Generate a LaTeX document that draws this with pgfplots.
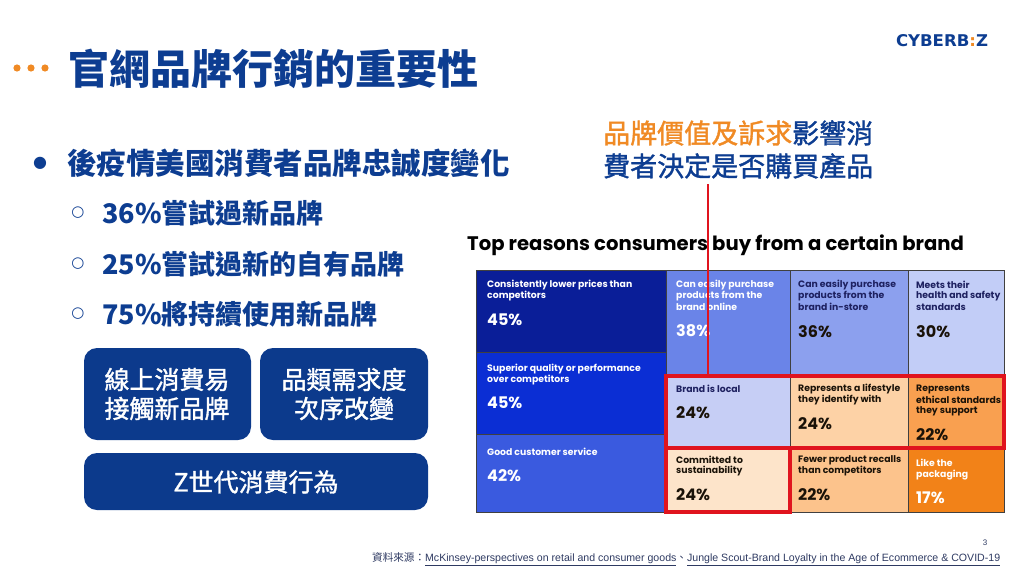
\documentclass[border=0pt]{standalone}
\usepackage{fontspec}
\usepackage{pgfplots}
\pgfplotsset{compat=1.18}
\setmainfont{Liberation Sans}
\newfontfamily\cjk{Noto Sans CJK TC}
\newfontfamily\cjkm{Noto Sans CJK TC}[FakeBold=1.4]
\newfontfamily\pop{Poppins}
\newfontfamily\dvs{DejaVu Sans}
\definecolor{navy}{HTML}{0D3D91}
\definecolor{boxblue}{HTML}{0C3A8C}
\definecolor{orng}{HTML}{F08A24}
\definecolor{hred}{HTML}{E0141E}
\definecolor{cA}{HTML}{0A1E98}
\definecolor{cB}{HTML}{0B2ED4}
\definecolor{cC}{HTML}{3A5ADF}
\definecolor{cD}{HTML}{6A84E8}
\definecolor{cE}{HTML}{8CA0EE}
\definecolor{cF}{HTML}{C2CDF7}
\definecolor{cG}{HTML}{C6CEF5}
\definecolor{cH}{HTML}{FDE4CA}
\definecolor{cI}{HTML}{FDD2A6}
\definecolor{cJ}{HTML}{F9A050}
\definecolor{cK}{HTML}{FCC38C}
\definecolor{cL}{HTML}{F28218}
\definecolor{dtext}{HTML}{1E2160}
\definecolor{btext}{HTML}{1A1208}
\definecolor{foot}{HTML}{2E3A62}
\newcommand\cell[5]{\addplot[fill=#5,draw=black!75,line width=0.8bp] coordinates {(#1,#2) (#3,#2) (#3,#4) (#1,#4) (#1,#2)};}
\newcommand\lab[4]{\node[anchor=west,inner sep=0,text=#4,font=\pop\bfseries\fontsize{9.3bp}{11bp}\selectfont] at (axis cs:#1,#2) {#3};}
\newcommand\pct[4]{\node[anchor=west,inner sep=0,text=#4,font=\pop\bfseries\fontsize{16bp}{18bp}\selectfont] at (axis cs:#1,#2) {#3\%};}
\newcommand\sub[2]{\node[anchor=center,inner sep=0,text=navy,font=\dvs\fontsize{15bp}{18bp}\selectfont] at (axis cs:78,#1) {○};
  \node[anchor=west,inner sep=0,text=navy,font=\cjk\bfseries\fontsize{27bp}{30bp}\selectfont] at (axis cs:102,#1) {#2};}
\begin{document}
\begin{tikzpicture}
\begin{axis}[width=1024bp,height=576bp,scale only axis,xmin=0,xmax=1024,ymin=0,ymax=576,y dir=reverse,hide axis,clip=false]
% background
\addplot[fill=white,draw=none] coordinates {(0,0) (1024,0) (1024,576) (0,576)};
% title
\fill[orng] (axis cs:17,68) circle[radius=3.6bp];
\fill[orng] (axis cs:31,68) circle[radius=3.6bp];
\fill[orng] (axis cs:45,68) circle[radius=3.6bp];
\node[anchor=west,inner sep=0,text=navy,font=\cjk\bfseries\fontsize{41bp}{44bp}\selectfont] at (axis cs:68,69) {官網品牌行銷的重要性};
% logo
\node[anchor=center,inner sep=0,text=navy] at (axis cs:942,41) {\resizebox{92bp}{12bp}{\dvs\bfseries CYBERB{\color{orng}:}Z}};
% bullets
\node[anchor=center,inner sep=0,text=navy,font=\dvs\fontsize{16bp}{18bp}\selectfont] at (axis cs:40,163) {●};
\node[anchor=west,inner sep=0,text=navy,font=\cjk\bfseries\fontsize{29.5bp}{32bp}\selectfont] at (axis cs:67,163) {後疫情美國消費者品牌忠誠度變化};
\sub{213}{36\%嘗試過新品牌}
\sub{264}{25\%嘗試過新的自有品牌}
\sub{314}{75\%將持續使用新品牌}
% boxes
\fill[boxblue,rounded corners=13bp] (axis cs:84,348) rectangle (axis cs:251,440);
\fill[boxblue,rounded corners=13bp] (axis cs:260,348) rectangle (axis cs:428,440);
\fill[boxblue,rounded corners=13bp] (axis cs:84,453) rectangle (axis cs:428,510);
\node[align=center,text=white,inner sep=0,font=\cjkm\fontsize{25bp}{29bp}\selectfont] at (axis cs:167,394) {線上消費易\\接觸新品牌};
\node[align=center,text=white,inner sep=0,font=\cjkm\fontsize{25bp}{29bp}\selectfont] at (axis cs:344,394) {品類需求度\\次序改變};
\node[text=white,inner sep=0,font=\cjkm\fontsize{25bp}{29bp}\selectfont] at (axis cs:256,482) {Z世代消費行為};
% annotation
\node[anchor=west,inner sep=0,font=\cjkm\fontsize{27bp}{30bp}\selectfont] at (axis cs:603,133) {\color{orng}品牌價值及訴求\color{navy}影響消};
\node[anchor=west,inner sep=0,text=navy,font=\cjkm\fontsize{27bp}{30bp}\selectfont] at (axis cs:603,166) {費者決定是否購買產品};
% chart title
\node[anchor=west,inner sep=0,text=black,font=\pop\bfseries\fontsize{19.6bp}{21bp}\selectfont] at (axis cs:467,245) {Top reasons consumers buy from a certain brand};
% treemap cells
\cell{476}{270}{666}{352}{cA}
\cell{476}{352}{666}{434}{cB}
\cell{476}{434}{666}{512}{cC}
\cell{666}{270}{790}{376}{cD}
\cell{790}{270}{908}{376}{cE}
\cell{908}{270}{1004}{376}{cF}
\cell{666}{376}{790}{448}{cG}
\cell{666}{448}{790}{512}{cH}
\cell{790}{376}{908}{448}{cI}
\cell{790}{448}{908}{512}{cK}
\cell{908}{376}{1004}{448}{cJ}
\cell{908}{448}{1004}{512}{cL}
% labels
\lab{487}{285}{Consistently lower prices than}{white}
\lab{487}{296}{competitors}{white}
\pct{487}{320}{45}{white}
\lab{487}{369}{Superior quality or performance}{white}
\lab{487}{380}{over competitors}{white}
\pct{487}{403}{45}{white}
\lab{487}{452}{Good customer service}{white}
\pct{487}{476}{42}{white}
\lab{676}{285}{Can easily purchase}{white}
\lab{676}{296}{products from the}{white}
\lab{676}{307}{brand online}{white}
\pct{676}{331}{38}{white}
\lab{798}{285}{Can easily purchase}{dtext}
\lab{798}{296}{products from the}{dtext}
\lab{798}{307}{brand in-store}{dtext}
\pct{798}{332}{36}{btext}
\lab{916}{285}{Meets their}{dtext}
\lab{916}{296}{health and safety}{dtext}
\lab{916}{307}{standards}{dtext}
\pct{916}{332}{30}{btext}
\lab{676}{389}{Brand is local}{dtext}
\pct{676}{413}{24}{btext}
\lab{676}{460}{Committed to}{btext}
\lab{676}{471}{sustainability}{btext}
\pct{676}{495}{24}{btext}
\lab{798}{389}{Represents a lifestyle}{btext}
\lab{798}{400}{they identify with}{btext}
\pct{798}{424}{24}{btext}
\lab{916}{389}{Represents}{btext}
\lab{916}{400}{ethical standards}{btext}
\lab{916}{411}{they support}{btext}
\pct{916}{435}{22}{btext}
\lab{798}{460}{Fewer product recalls}{btext}
\lab{798}{471}{than competitors}{btext}
\pct{798}{495}{22}{btext}
\lab{916}{463}{Like the}{white}
\lab{916}{475}{packaging}{white}
\pct{916}{498}{17}{white}
% highlight boxes and pointer
\draw[hred,line width=3.2bp] (axis cs:666,376) rectangle (axis cs:1004,448);
\draw[hred,line width=3.2bp] (axis cs:666,448) rectangle (axis cs:790,512);
\draw[hred,line width=2.4bp] (axis cs:708,184) -- (axis cs:708,376);
% footer
\node[anchor=center,inner sep=0,text=foot,font=\fontsize{8bp}{9bp}\selectfont] at (axis cs:985,543) {3};
\node[anchor=west,inner sep=0,text=foot] at (axis cs:372,559) {\resizebox{628bp}{!}{\fontsize{10bp}{12bp}\selectfont{\cjk 資料來源：}\underline{McKinsey-perspectives on retail and consumer goods}{\cjk 、}\underline{Jungle Scout-Brand Loyalty in the Age of Ecommerce \& COVID-19}}};
\end{axis}
\end{tikzpicture}
\end{document}
